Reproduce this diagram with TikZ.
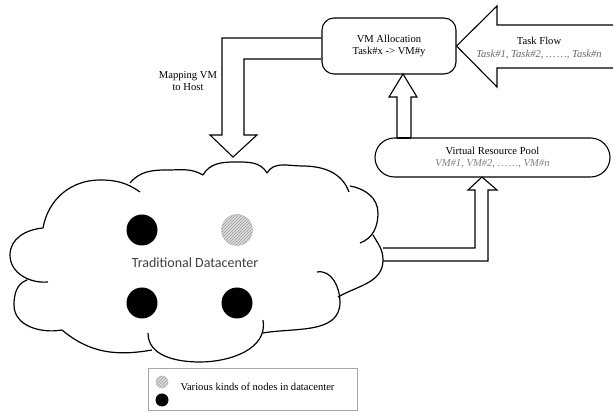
\documentclass[tikz,border=0pt]{standalone}
\usepackage{fontspec}
\setmainfont{Liberation Serif}
\newfontfamily\calibri{Carlito}
\usetikzlibrary{patterns,shapes.misc}

\begin{document}
\begin{tikzpicture}[x=1pt,y=1pt,line width=1.1pt,line join=miter,font=\fontsize{10.6}{12.5}\selectfont]
	\tikzstyle{every node}=[align=center,inner sep=0pt]
	\tikzstyle{box}=[draw,rounded corners=12pt,minimum width=134pt,minimum height=56pt]
	\tikzstyle{pill}=[draw,rounded rectangle,minimum width=235pt,minimum height=39pt]
	\tikzstyle{host}=[circle,fill=black,minimum size=31pt]
	\tikzstyle{vmhost}=[circle,fill=gray!25,draw=gray!45,line width=0.6pt,minimum size=31pt,postaction={pattern=north east lines,pattern color=gray!80}]
	\useasboundingbox (0,0) rectangle (614,412);

	\node[box] (alloc) at (389,366) {VM Allocation\\Task\#x -> VM\#y};
	\node[pill] (pool) at (492.5,254.5) {Virtual Resource Pool\\\textcolor{gray}{\itshape VM\#1, VM\#2, \dots\,\dots, VM\#n}};
	\node (flow) at (539,364) {Task Flow\\\textcolor{black!60}{\itshape Task\#1, Task\#2, \dots\,\dots, Task\#n}};
	\node (map) at (188,331) {Mapping VM\\to Host};

	% task flow arrow
	\draw (613,387) -- (497,387) -- (497,406) -- (alloc.east) -- (497,325) -- (497,344) -- (613,344);
	% mapping arrow
	\draw (alloc.west |- 0,374) -- (222,374) -- (222,277) -- (210,277) -- (233,255) -- (257,277)
		-- (244,277) -- (244,353) -- (alloc.west |- 0,353);
	% pool to allocation
	\draw (397,274) -- (397,315) -- (389,315) -- (403,338) -- (417,315) -- (411,315) -- (411,274);
	\draw[line width=2.6pt] (397,274) -- (411,274);
	% datacenter to pool
	\draw (383,164) -- (475,164) -- (475,222) -- (468,222) -- (482,235) -- (497,222) -- (488,222)
		-- (488,151) -- (383,151);

	% the cloud
	\draw[line width=1.2pt]
		(43,184) to[out=185,in=90] (10,157) to[out=-90,in=185] (48,130)
		(27,132) to[out=200,in=90] (14,107) to[out=-90,in=190] (62,82)
		(62,82) to[out=-40,in=190] (152,62)
		(148,79) to[out=-90,in=180] (200,50) to[out=0,in=-80] (263,92)
		(263,79) to[out=10,in=-90] (340,110) to[out=90,in=10] (317,140)
		(373,177) to[out=-60,in=90] (383,152) to[out=-90,in=30] (338,115)
		(350,226) to[out=-10,in=90] (378,199) to[out=-90,in=20] (360,169)
		(267,239) to[out=60,in=180] (302,246) to[out=0,in=110] (349,220)
		(203,237) to[out=60,in=180] (235,250) to[out=0,in=120] (267,239)
		(130,229) to[out=50,in=180] (167,242) to[out=0,in=150] (203,237)
		(43,184) to[out=80,in=180] (100,232) to[out=0,in=145] (140,220);

	\node[host] (h1) at (142,182) {};
	\node[vmhost] (h2) at (237,182) {};
	\node[host] (h3) at (142,109) {};
	\node[host] (h4) at (237,109) {};
	\node[text=black!75] (dc) at (195,149) {\calibri\fontsize{14}{16}\selectfont Traditional Datacenter};

	% legend
	\node[draw=gray!70,line width=0.6pt,minimum width=209pt,minimum height=42pt] (legend) at (252.5,23) {};
	\node[vmhost,minimum size=12pt] (l1) at (162,30) {};
	\node[host,minimum size=13pt] (l2) at (162,12) {};
	\node[anchor=west] (ltext) at (180,25) {Various kinds of nodes in datacenter};
\end{tikzpicture}
\end{document}
